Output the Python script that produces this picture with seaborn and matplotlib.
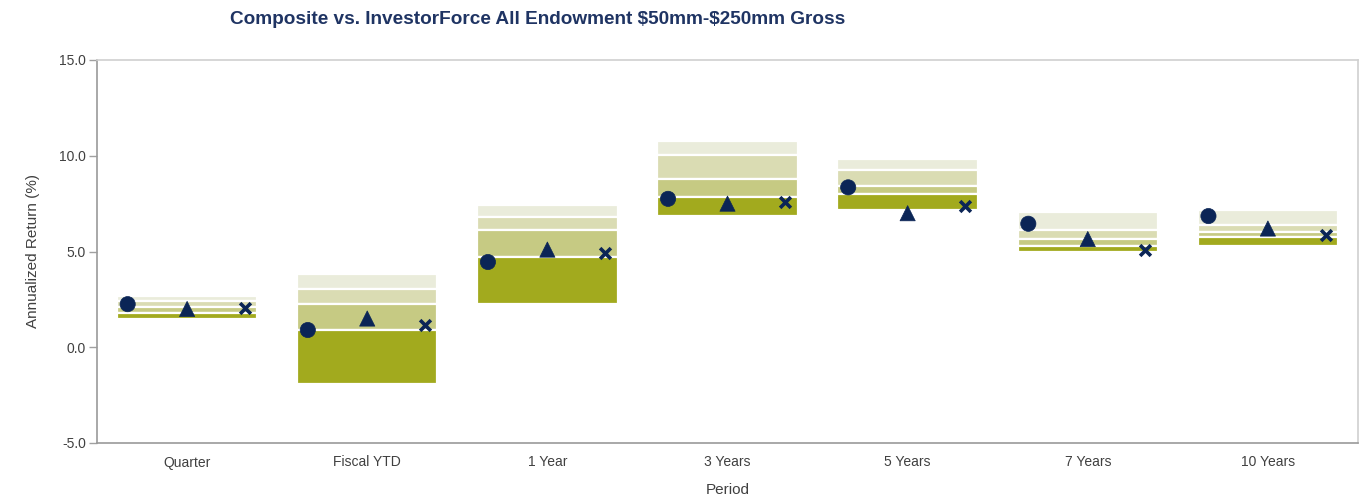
import numpy as np
import pandas as pd
import matplotlib
matplotlib.use("Agg")
import matplotlib.pyplot as plt
import seaborn as sns

periods = ["Quarter", "Fiscal YTD", "1 Year", "3 Years", "5 Years", "7 Years", "10 Years"]
p5 = [2.70, 3.80, 7.45, 10.75, 9.85, 7.05, 7.15]
p25 = [2.40, 3.05, 6.80, 10.05, 9.25, 6.10, 6.40]
p50 = [2.10, 2.25, 6.10, 8.80, 8.40, 5.65, 6.00]
p75 = [1.80, 0.90, 4.70, 7.85, 8.00, 5.30, 5.75]
p95 = [1.50, -1.90, 2.25, 6.85, 7.15, 4.95, 5.30]

composite = [2.25, 0.90, 4.45, 7.75, 8.35, 6.45, 6.85]
series_b = [2.00, 1.50, 5.10, 7.50, 7.00, 5.65, 6.20]
series_c = [2.05, 1.15, 4.90, 7.60, 7.40, 5.10, 5.85]

band_colors = ["#eaecdb", "#dadcb3", "#c6ca83", "#a2aa1e"]
navy = "#0b2556"

sns.set_theme(style="white")
plt.rcParams["font.family"] = ["Liberation Sans", "DejaVu Sans"]

fig = plt.figure(figsize=(13.63, 5.0), dpi=100)
ax = fig.add_axes([0.0712, 0.114, 0.9251, 0.766])

tops = [p5, p25, p50, p75]
bots = [p25, p50, p75, p95]
for top, bot, col in zip(tops, bots, band_colors):
    df = pd.DataFrame({"period": periods,
                       "height": np.array(top) - np.array(bot),
                       "bottom": bot})
    sns.barplot(data=df, x="period", y="height", order=periods, bottom=df["bottom"].values,
                color=col, saturation=1, width=0.78, edgecolor="white", linewidth=1.6, ax=ax)

xpos = np.arange(len(periods))
mk_main = pd.DataFrame({
    "x": np.concatenate([xpos - 0.33, xpos]),
    "y": composite + series_b,
    "s": ["Composite"] * 7 + ["B"] * 7,
})
sns.scatterplot(data=mk_main, x="x", y="y", style="s", markers={"Composite": "o", "B": "^"},
                color=navy, s=120, edgecolor=navy, linewidth=0.5, legend=False, ax=ax, zorder=5)
mk_c = pd.DataFrame({"x": xpos + 0.32, "y": series_c})
sns.scatterplot(data=mk_c, x="x", y="y", marker="x", color=navy, s=60, linewidth=2.6,
                legend=False, ax=ax, zorder=5)

ax.set_xlim(-0.5, 6.5)
ax.set_ylim(-5, 15)
ax.set_yticks([-5, 0, 5, 10, 15])
ax.set_yticklabels([f"{v:.1f}" for v in [-5, 0, 5, 10, 15]])
ax.set_xticks(xpos)
ax.set_xticklabels(periods)
ax.tick_params(axis="y", which="both", left=True, length=6, width=1, color="#a0a0a0",
               labelsize=10, labelcolor="#404040", pad=2)
ax.tick_params(axis="x", bottom=False, length=0, labelsize=10, labelcolor="#404040", pad=9)
for side in ["left", "bottom"]:
    ax.spines[side].set_color("#9a9a9a")
    ax.spines[side].set_linewidth(1.2)
for side in ["top", "right"]:
    ax.spines[side].set_color("#d0d0d0")
    ax.spines[side].set_linewidth(1.2)
ax.set_xlabel("Period", fontsize=11, color="#404040", labelpad=10)
ax.set_ylabel("Annualized Return (%)", fontsize=11, color="#404040", labelpad=14)

fig.text(230 / 1363, 1 - 19 / 500, r"Composite vs. InvestorForce All Endowment \$50mm-\$250mm Gross",
         fontsize=13.7, fontweight="bold", color="#1f3463", ha="left", va="center",
         family=["Liberation Sans", "DejaVu Sans"])

fig.savefig("out.png", dpi=100, facecolor="white")
